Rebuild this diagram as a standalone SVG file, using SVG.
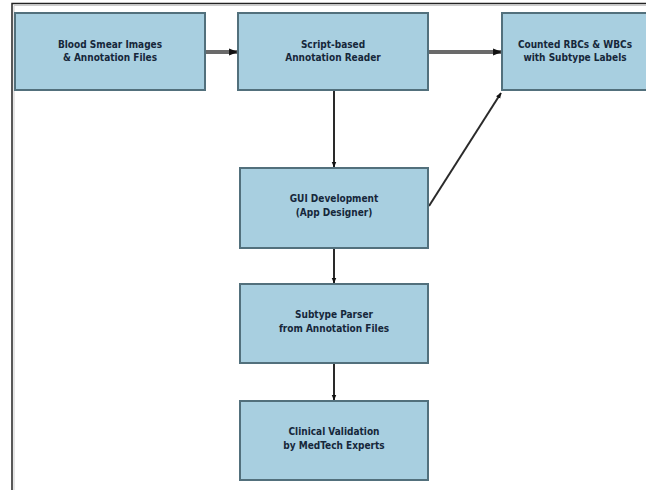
<svg xmlns="http://www.w3.org/2000/svg" width="646" height="490" viewBox="0 0 646 490">
<defs>
<style>
.box{fill:#a8cfe0;stroke:#52707c;stroke-width:2}
.t{font-family:"DejaVu Sans Condensed","DejaVu Sans",sans-serif;font-weight:bold;font-size:10px;fill:#16273a;text-anchor:middle}
.thick{stroke:#6a6a6a;stroke-width:4;fill:none}
.thin{stroke:#2a2a2a;stroke-width:2;fill:none}
</style>
<marker id="ah" viewBox="0 0 10 10" refX="9" refY="5" markerWidth="2.2" markerHeight="2.2" orient="auto" markerUnits="strokeWidth">
<path d="M0,1 L10,5 L0,9 z" fill="#111"/>
</marker>
<marker id="ah2" viewBox="0 0 10 10" refX="9" refY="5" markerWidth="3" markerHeight="3" orient="auto" markerUnits="strokeWidth">
<path d="M0,1 L10,5 L0,9 z" fill="#111"/>
</marker>
</defs>
<rect width="646" height="490" fill="#ffffff"/>
<path d="M12,490 V3.5 H646" fill="none" stroke="#222" stroke-width="1.5"/>
<path d="M14,490 V5.5 H646" fill="none" stroke="#ccc" stroke-width="1"/>
<g id="connectors">
<line class="thick" x1="206" y1="52" x2="237" y2="52" marker-end="url(#ah)"/>
<line class="thick" x1="429" y1="52" x2="501" y2="52" marker-end="url(#ah)"/>
<line class="thin" x1="334" y1="91" x2="334" y2="167" marker-end="url(#ah2)"/>
<line class="thin" x1="429" y1="206" x2="501" y2="93" marker-end="url(#ah2)"/>
<line class="thin" x1="334" y1="249" x2="334" y2="283" marker-end="url(#ah2)"/>
<line class="thin" x1="334" y1="364" x2="334" y2="400" marker-end="url(#ah2)"/>
</g>
<g id="n1"><rect class="box" x="15" y="13" width="190" height="77"/>
<text class="t" x="110" y="48">Blood Smear Images</text><text class="t" x="110" y="61">&amp; Annotation Files</text></g>
<g id="n2"><rect class="box" x="238" y="13" width="190" height="77"/>
<text class="t" x="333" y="48">Script-based</text><text class="t" x="333" y="61">Annotation Reader</text></g>
<g id="n3"><rect class="box" x="502" y="13" width="150" height="77"/>
<text class="t" x="575" y="48">Counted RBCs &amp; WBCs</text><text class="t" x="575" y="61">with Subtype Labels</text></g>
<g id="n4"><rect class="box" x="240" y="168" width="188" height="80"/>
<text class="t" x="334" y="202">GUI Development</text><text class="t" x="334" y="216">(App Designer)</text></g>
<g id="n5"><rect class="box" x="240" y="284" width="188" height="79"/>
<text class="t" x="334" y="318">Subtype Parser</text><text class="t" x="334" y="332">from Annotation Files</text></g>
<g id="n6"><rect class="box" x="240" y="401" width="188" height="79"/>
<text class="t" x="334" y="435">Clinical Validation</text><text class="t" x="334" y="449">by MedTech Experts</text></g>
</svg>
